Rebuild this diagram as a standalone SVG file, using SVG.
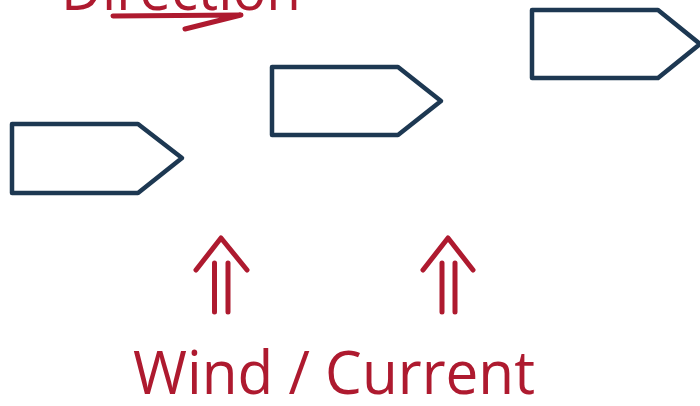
<svg xmlns="http://www.w3.org/2000/svg" width="700" height="406" viewBox="0 0 700 406">
<style>
.boat{fill:#fff;stroke:#1d3852;stroke-width:4.5;stroke-linejoin:round}
.red{fill:none;stroke:#ae1a2f;stroke-width:5;stroke-linecap:round;stroke-linejoin:round}
.lbl{font-family:"Open Sans","Liberation Sans",sans-serif;fill:#ae1a2f;font-size:60px}
</style>
<rect width="700" height="406" fill="#fff"/>
<g id="direction-label">
<text class="lbl" x="61" y="10" textLength="240" lengthAdjust="spacingAndGlyphs">Direction</text>
</g>
<g id="boat1"><polygon class="boat" points="12,124 138,124 182,158 138,193 12,193"/></g>
<g id="boat2"><polygon class="boat" points="272,67 398,67 441,101 398,135 272,135"/></g>
<g id="boat3"><polygon class="boat" points="532,10 658,10 700,44 658,78 532,78"/></g>
<g id="connectors">
<path class="red" d="M113,16 L241,15 L185,29"/>
<path class="red" d="M196,270 L221,238 L247,270 M214.5,263 V312 M228,263 V312"/>
<path class="red" d="M423,270 L448,238 L473,270 M442,263 V312 M455,263 V312"/>
</g>
<g id="wind-label">
<text class="lbl" x="133" y="394" textLength="402" lengthAdjust="spacingAndGlyphs">Wind / Current</text>
</g>
</svg>
